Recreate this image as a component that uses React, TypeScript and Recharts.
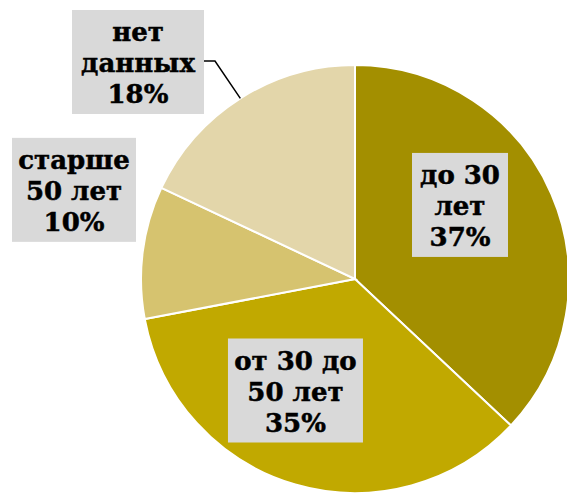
import { PieChart, Pie, Cell } from 'recharts';

const categories = ['до 30 лет', 'от 30 до 50 лет', 'старше 50 лет', 'нет данных'];
const shares = [37, 35, 10, 18];
const labelLines = [['до 30', 'лет'], ['от 30 до', '50 лет'], ['старше', '50 лет'], ['нет', 'данных']];

const COLORS = ['#A38F00', '#C1A900', '#D6C36F', '#E3D6AA'];

// где стоят подписи: угол (градусы) и расстояние от центра, ширина плашки
const LABEL_LAYOUT = [
  { angle: 35.2, dist: 128.5, w: 96 },
  { angle: -118.1, dist: 126.4, w: 135 },
  { angle: 162.4, dist: 294.8, w: 124 },
  { angle: 135, dist: 306.9, w: 132 },
];

const RADIAN = Math.PI / 180;
const BOX_H = 104;
const LINE_GAP = 31;

const data = categories.map((name, i) => ({ name, value: shares[i] }));

function renderLabel(props: any) {
  const { cx, cy, midAngle, outerRadius, percent, index } = props;
  const layout = LABEL_LAYOUT[index];
  const x = cx + layout.dist * Math.cos(layout.angle * RADIAN);
  const y = cy - layout.dist * Math.sin(layout.angle * RADIAN);
  const lines = [...labelLines[index], `${Math.round(percent * 100)}%`];

  let leader = null;
  if (index === 3) {
    // выноска только у "нет данных"
    const sx = cx + outerRadius * Math.cos(-midAngle * RADIAN);
    const sy = cy + outerRadius * Math.sin(-midAngle * RADIAN);
    const ex = x + layout.w / 2;
    leader = (
      <polyline
        points={`${sx},${sy} ${ex + 11},${y - 1} ${ex},${y - 1}`}
        fill="none"
        stroke="#000"
        strokeWidth={1.5}
      />
    );
  }

  return (
    <g key={`lbl-${index}`}>
      {leader}
      <rect x={x - layout.w / 2} y={y - BOX_H / 2} width={layout.w} height={BOX_H} fill="#D9D9D9" />
      {lines.map((t, i) => (
        <text
          key={i}
          x={x}
          y={y + (i - 1) * LINE_GAP + 1}
          textAnchor="middle"
          dominantBaseline="central"
          fontFamily="'DejaVu Serif', serif"
          fontWeight="bold"
          fontSize={26}
          fill="#000"
          stroke="#000"
          strokeWidth={0.5}
        >
          {t}
        </text>
      ))}
    </g>
  );
}

export default function App() {
  return (
    <div style={{ position: 'absolute', left: 0, top: 0, width: 567, height: 496, background: '#fff' }}>
      <PieChart width={567} height={496}>
        <Pie
          data={data}
          dataKey="value"
          nameKey="name"
          cx={350}
          cy={274}
          outerRadius={214}
          startAngle={90}
          endAngle={-270}
          stroke="#fff"
          strokeWidth={2}
          label={renderLabel}
          labelLine={false}
          isAnimationActive={false}
        >
          {data.map((_, index) => (
            <Cell key={`cell-${index}`} fill={COLORS[index]} />
          ))}
        </Pie>
      </PieChart>
    </div>
  );
}
